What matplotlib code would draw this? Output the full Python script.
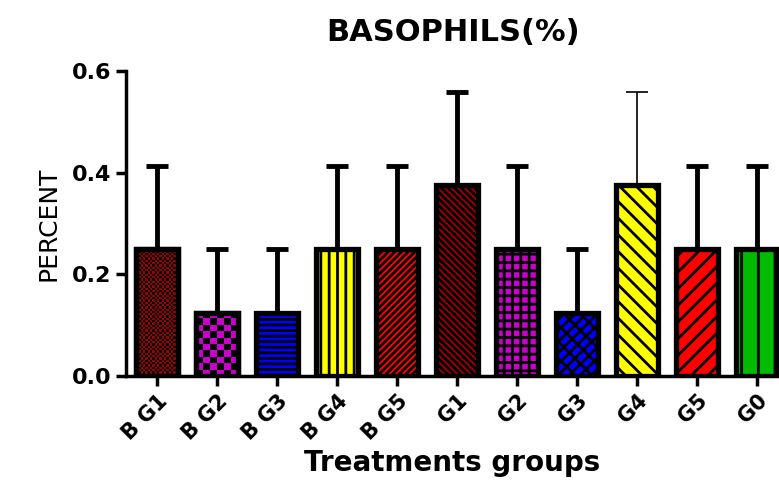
from matplotlib import pyplot as plt
from matplotlib.colors import ListedColormap
import numpy as np

# datos
groups = ['B G1', 'B G2', 'B G3', 'B G4', 'B G5', 'G1', 'G2', 'G3', 'G4', 'G5', 'G0']
means = [0.25, 0.125, 0.125, 0.25, 0.25, 0.375, 0.25, 0.125, 0.375, 0.25, 0.25]
errs = [0.164, 0.125, 0.125, 0.164, 0.164, 0.183, 0.164, 0.125, 0.183, 0.164, 0.164]

colors = ['#990000', '#CC00CC', '#0000FF', '#FFFF00', '#FF0000', '#990000',
          '#CC00CC', '#0000FF', '#FFFF00', '#FF0000', '#00BB00']
hatches = [None, None, '---', '||', '/////', '\\\\\\\\\\', '++', '///\\\\', '\\\\', '//', '|']
checker_px = {0: 2.3, 1: 6.5}   # tamaño de la casilla del damero en pixeles
thin_err = [8]                  # G4 tiene la barra de error fina

plt.rcParams['hatch.linewidth'] = 2.0
plt.rcParams['font.family'] = ['DejaVu Sans']

fig = plt.figure(figsize=(7.79, 4.84), dpi=100)
ax = fig.add_axes([0.162, 0.223, 0.838, 0.630])

x = np.arange(len(groups))
w = 0.7
ax.set_xlim(-0.517, 10.37)
ax.set_ylim(0, 0.6)

# barras de error (solo hacia arriba)
for i in x:
    lw = 1.2 if i in thin_err else 3.5
    ax.errorbar(x[i], means[i], yerr=[[0], [errs[i]]], fmt='none', ecolor='black',
                elinewidth=lw, capsize=8, capthick=lw, zorder=1.5)

bars = ax.bar(x, means, w, color=colors, edgecolor='black', linewidth=3.8, zorder=2)
for b, h in zip(bars, hatches):
    if h:
        b.set_hatch(h)

# damero para las dos primeras barras
px_x = 1 / (ax.transData.transform((1, 0))[0] - ax.transData.transform((0, 0))[0])
px_y = 0.6 / (ax.transData.transform((0, 0.6))[1] - ax.transData.transform((0, 0))[1])
for i, cell in checker_px.items():
    b = bars[i]
    nx = max(1, int(round(b.get_width() / (cell * px_x))))
    ny = max(1, int(round(b.get_height() / (cell * px_y))))
    board = np.indices((ny, nx)).sum(axis=0) % 2
    im = ax.imshow(board, cmap=ListedColormap(['black', colors[i]]), aspect='auto',
                   interpolation='nearest', origin='lower',
                   extent=(b.get_x(), b.get_x() + b.get_width(), 0, b.get_height()), zorder=2.5)
    im.set_clip_path(b)
    ax.bar(x[i], means[i], w, fill=False, edgecolor='black', linewidth=3.8, zorder=3)

ax.set_xlim(-0.517, 10.37)
ax.set_ylim(0, 0.6)

ax.spines['top'].set_visible(False)
ax.spines['right'].set_visible(False)
ax.spines['left'].set_linewidth(2.5)
ax.spines['bottom'].set_linewidth(2.5)

ax.set_yticks([0.0, 0.2, 0.4, 0.6])
ax.set_yticklabels(['0.0', '0.2', '0.4', '0.6'], fontsize=16, fontweight='bold')
ax.set_xticks(x)
ax.set_xticklabels(groups, fontsize=15, fontweight='bold', rotation=45,
                   ha='right', rotation_mode='anchor')
ax.tick_params(axis='both', width=2.5, length=7)

ax.set_ylabel('PERCENT', fontsize=18, labelpad=8)
ax.set_xlabel('Treatments groups', fontsize=20, fontweight='bold', labelpad=4)
ax.set_title('BASOPHILS(%)', fontsize=22, fontweight='bold', pad=22)

fig.savefig('out.png', dpi=100)
